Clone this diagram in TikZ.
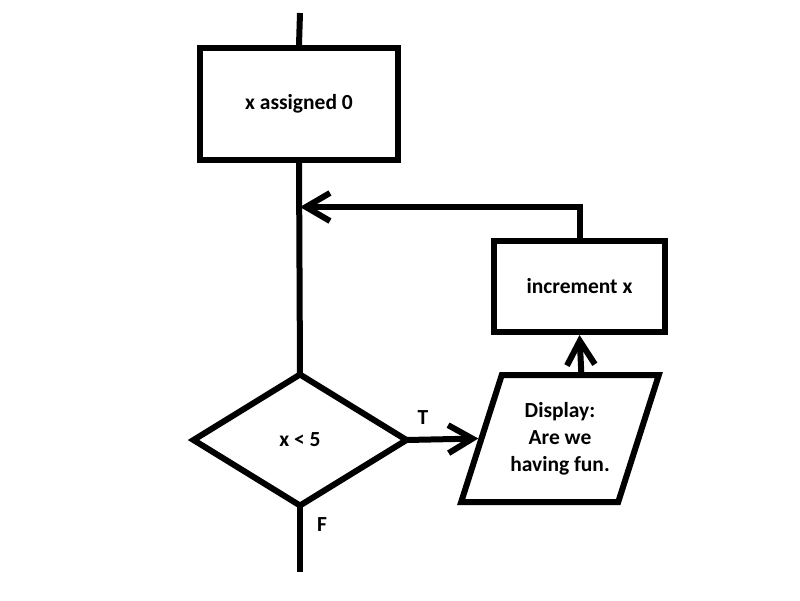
\documentclass[tikz,border=0pt]{standalone}
\usepackage{fontspec}
\setmainfont{Carlito}
\usetikzlibrary{arrows.meta,shapes.geometric}

\begin{document}
\begin{tikzpicture}[
    x=1pt, y=-1pt,
    line width=6pt,
    every node/.style={align=center, font=\bfseries\fontsize{21.5}{27}\selectfont},
    box/.style={draw, minimum width=198pt, minimum height=112pt},
    decision/.style={draw, diamond, outer sep=0pt, minimum width=213pt, minimum height=131pt},
    io/.style={draw, trapezium, trapezium left angle=65, trapezium right angle=115,
      trapezium stretches=true, minimum width=198pt, minimum height=127pt},
    lbl/.style={inner sep=0pt},
    >={Straight Barb[length=24pt,width=28pt]}
  ]
    \useasboundingbox (0,0) rectangle (800,600);

    \coordinate (start) at (300,13);
    \coordinate (join) at (300,207);
    \coordinate (stop) at (300,572);

    \node[box] (init) at (299,104) {x assigned 0};
    \node[box, minimum width=171pt, minimum height=91pt] (incr) at (579.5,286.5) {increment x};
    \node[decision] (test) at (300,440) {x < 5};
    \node[io] (show) at (560,438.5) {Display:\\Are we\\having fun.};

    \node[lbl] (tlbl) at (423,418) {T};
    \node[lbl] (flbl) at (322,525) {F};

    \draw (start) -- (init.north);
    \draw (init.south) -- (test.north);
    \draw (test.south) -- (stop);
    \draw[->] (test.east) -- (show.left side);
    \draw[->] (show.top side) -- (incr.south);
    \draw[->] (incr.north) |- (join);
  \end{tikzpicture}
\end{document}
